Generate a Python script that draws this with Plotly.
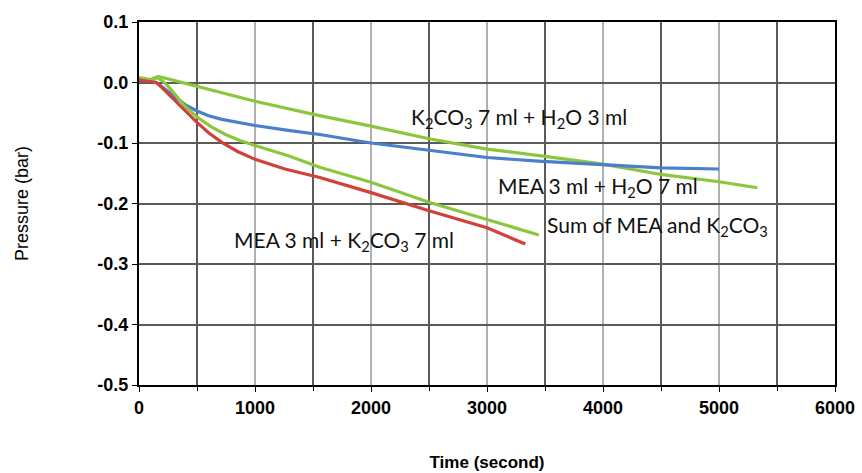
import plotly.graph_objects as go

# Data
t_red = [0, 100, 150, 200, 280, 350, 420, 500, 600, 714, 850, 1000, 1258, 1558, 2000, 2500, 3000, 3330]
p_red = [0.004, 0.002, 0.0, -0.009, -0.024, -0.038, -0.052, -0.066, -0.083, -0.099, -0.114, -0.127, -0.143, -0.157, -0.182, -0.212, -0.240, -0.267]

t_sum = [0, 100, 155, 200, 250, 320, 400, 500, 620, 745, 870, 1000, 1287, 1558, 2000, 2500, 3000, 3447]
p_sum = [0.006, 0.004, 0.008, 0.003, -0.006, -0.022, -0.040, -0.057, -0.073, -0.086, -0.096, -0.104, -0.121, -0.140, -0.165, -0.198, -0.226, -0.252]

t_blue = [0, 100, 150, 220, 313, 400, 500, 600, 714, 850, 1000, 1287, 1558, 2000, 2500, 3000, 3442, 4000, 4500, 5000]
p_blue = [0.003, 0.002, 0.0, -0.010, -0.024, -0.037, -0.047, -0.055, -0.061, -0.066, -0.071, -0.079, -0.086, -0.100, -0.112, -0.124, -0.130, -0.136, -0.141, -0.143]

t_k2 = [0, 100, 167, 250, 350, 500, 750, 1000, 1515, 2000, 2500, 3000, 3500, 4000, 4500, 5000, 5330]
p_k2 = [0.008, 0.005, 0.010, 0.006, 0.001, -0.007, -0.019, -0.031, -0.053, -0.072, -0.093, -0.110, -0.122, -0.135, -0.152, -0.164, -0.174]

x_ticks = [0, 1000, 2000, 3000, 4000, 5000, 6000]
y_ticks = [0.1, 0.0, -0.1, -0.2, -0.3, -0.4, -0.5]

labels = [
    ("K<sub>2</sub>CO<sub>3</sub> 7 ml + H<sub>2</sub>O 3 ml", 2330, -0.058),
    ("MEA 3 ml + H<sub>2</sub>O 7 ml", 3080, -0.172),
    ("Sum of MEA and K<sub>2</sub>CO<sub>3</sub>", 3500, -0.237),
    ("MEA 3 ml + K<sub>2</sub>CO<sub>3</sub> 7 ml", 805, -0.262),
]

RED = "#d2403a"
BLUE = "#4a7fc9"
GREEN = "#8cc63e"

fig = go.Figure()
fig.add_trace(go.Scatter(x=t_k2, y=p_k2, mode="lines", line=dict(color=GREEN, width=3.2)))
fig.add_trace(go.Scatter(x=t_blue, y=p_blue, mode="lines", line=dict(color=BLUE, width=3.2)))
fig.add_trace(go.Scatter(x=t_sum, y=p_sum, mode="lines", line=dict(color=GREEN, width=3.2)))
fig.add_trace(go.Scatter(x=t_red, y=p_red, mode="lines", line=dict(color=RED, width=3.2)))

for txt, x, y in labels:
    fig.add_annotation(x=x, y=y, text=txt, showarrow=False, xanchor="left", yanchor="middle",
                       font=dict(family="Lato, Open Sans, sans-serif", size=21, color="#111111"))

fig.update_layout(
    width=862, height=473,
    margin=dict(l=139, r=27, t=22, b=88),
    paper_bgcolor="white", plot_bgcolor="white",
    showlegend=False,
    font=dict(family="Liberation Sans, Arial, sans-serif", color="black"),
)
fig.update_xaxes(
    range=[0, 6000], tickvals=x_ticks, ticktext=[str(v) for v in x_ticks],
    tickfont=dict(size=18, family="Liberation Sans, Arial, sans-serif", weight="bold"),
    showgrid=True, gridcolor="#b0b0b0", gridwidth=1.5,
    minor=dict(dtick=500, showgrid=True, gridcolor="#5a5a5a", gridwidth=1.5, ticks="outside", ticklen=4, tickcolor="black"),
    ticks="outside", ticklen=5, tickcolor="black",
    showline=True, linecolor="black", linewidth=2, mirror=True,
    zeroline=False, automargin=False,
    title=dict(text="Time (second)", font=dict(size=17, weight="bold"), standoff=40),
)
fig.update_yaxes(
    range=[-0.5, 0.1], tickvals=y_ticks, ticktext=[f"{v:.1f}" for v in y_ticks],
    tickfont=dict(size=18, family="Liberation Sans, Arial, sans-serif", weight="bold"),
    showgrid=True, gridcolor="#5a5a5a", gridwidth=1.5,
    ticks="outside", ticklen=5, tickcolor="black",
    showline=True, linecolor="black", linewidth=2, mirror=True,
    zeroline=False, automargin=False,
    title=dict(text="Pressure (bar)", font=dict(size=18), standoff=64),
)

fig.write_html("out.html", config={"displayModeBar": False},
               post_script="document.body.style.margin='0';")
